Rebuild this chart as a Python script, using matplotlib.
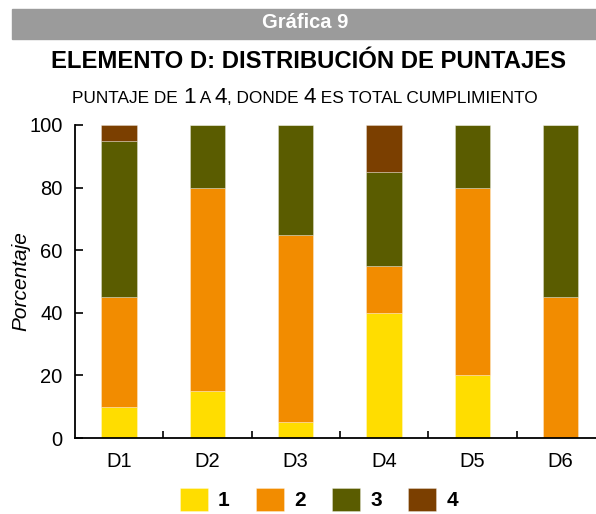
import matplotlib
matplotlib.use("Agg")
import matplotlib.pyplot as plt
from matplotlib.patches import Rectangle
import numpy as np

plt.rcParams['font.family'] = ['Liberation Sans', 'DejaVu Sans']

categories = ["D1", "D2", "D3", "D4", "D5", "D6"]
score1 = [10, 15, 5, 40, 20, 0]
score2 = [35, 65, 60, 15, 60, 45]
score3 = [50, 20, 35, 30, 20, 55]
score4 = [5, 0, 0, 15, 0, 0]
series_labels = ["1", "2", "3", "4"]
colors = ["#FFDD00", "#F28C00", "#5A5C00", "#7B3F00"]
yticks = [0, 20, 40, 60, 80, 100]

W, H = 596, 514
fig = plt.figure(figsize=(W / 100, H / 100), dpi=100)

# header bar
fig.patches.append(Rectangle((12 / W, 1 - 39 / H), (W - 12) / W, 30 / H,
                             transform=fig.transFigure, color="#9B9B9B", zorder=0))
fig.text(305 / W, 1 - 23 / H, "Gráfica 9", color="white", fontsize=14.5,
         fontweight="bold", ha="center", va="center")
fig.text(309 / W, 1 - 61 / H, "ELEMENTO D: DISTRIBUCIÓN DE PUNTAJES", color="black",
         fontsize=17.2, fontweight="bold", ha="center", va="center")

# subtitle with small caps effect
pieces = [("PUNTAJE DE ", 12.4), ("1", 16.2), (" A ", 12.4), ("4", 16.2),
          (", DONDE ", 12.4), ("4", 16.2), (" ES TOTAL CUMPLIMIENTO", 12.4)]
renderer = fig.canvas.get_renderer()
texts = []
widths = []
for s, fs in pieces:
    t = fig.text(0, 1 - 103 / H, s, fontsize=fs, ha="left", va="baseline")
    bb = t.get_window_extent(renderer=renderer)
    texts.append(t)
    widths.append(bb.width)
total = sum(widths)
x0 = 305 - total / 2
for t, w in zip(texts, widths):
    t.set_x(x0 / W)
    x0 += w

# axes
left, right = 75, W
bottom, top = 438, 125
ax = fig.add_axes([left / W, 1 - bottom / H, (right - left) / W, (bottom - top) / H])
x = np.arange(len(categories))
cat_w = 88.3
xmax = -0.5 + (right - left) / cat_w
bottoms = np.zeros(len(categories))
handles = []
for vals, c, lab in zip([score1, score2, score3, score4], colors, series_labels):
    b = ax.bar(x, vals, width=0.4, bottom=bottoms, color=c, edgecolor=(1, 1, 1, 0.35),
               linewidth=0.6, label=lab)
    handles.append(b)
    bottoms = bottoms + np.array(vals)

ax.set_xlim(-0.5, xmax)
ax.set_ylim(0, 100)
ax.set_yticks(yticks)
ax.set_xticks(x)
ax.set_xticklabels(categories)
ax.set_xticks(np.arange(0.5, len(categories) - 0.5, 1), minor=True)
ax.tick_params(axis="x", which="major", length=0, pad=10, labelsize=14.5)
ax.tick_params(axis="x", which="minor", direction="in", length=5, width=1.2)
ax.tick_params(axis="y", direction="in", length=6, width=1.2, labelsize=14.5, pad=9)
for s in ["top", "right"]:
    ax.spines[s].set_visible(False)
ax.spines["left"].set_linewidth(1.3)
ax.spines["bottom"].set_linewidth(1.3)
ax.set_ylabel("Porcentaje", fontsize=15, style="italic", labelpad=-1)

fig.legend(handles=handles, labels=series_labels, loc="lower center",
           bbox_to_anchor=(319 / W, -0.03), ncol=4, frameon=False,
           prop={"weight": "bold", "size": 15}, handlelength=1.35, handleheight=1.3,
           columnspacing=1.25, handletextpad=0.5)

fig.savefig("out.png", dpi=100)
